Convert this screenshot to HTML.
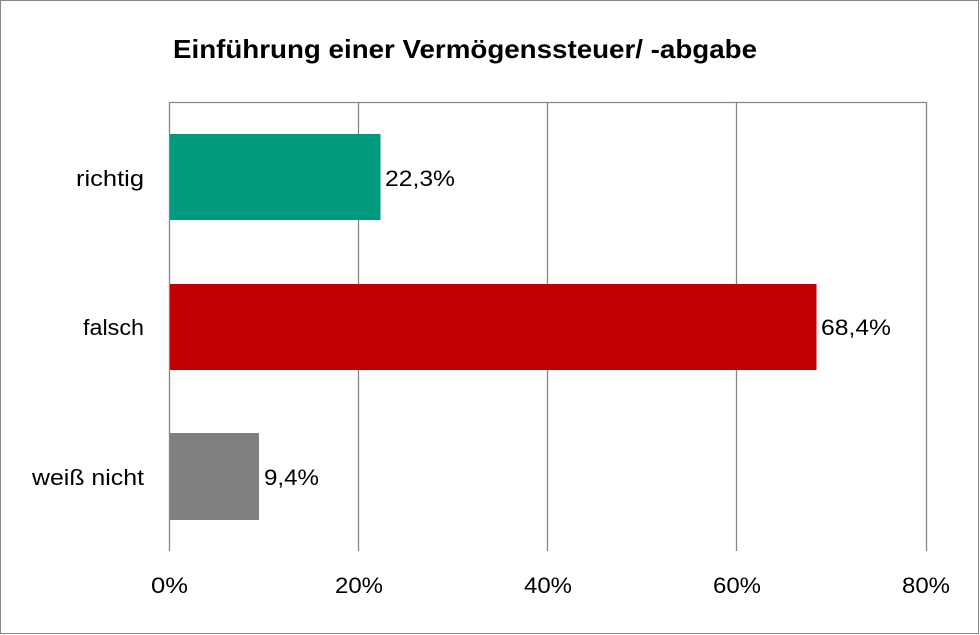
<!DOCTYPE html>
<html><head><meta charset="utf-8"><style>
html,body{margin:0;padding:0;background:#fff;}
svg{display:block;}
text{font-family:"Liberation Sans",sans-serif;fill:#000;}
</style></head><body>
<svg width="980" height="635" viewBox="0 0 980 635">
<rect x="0.5" y="0.5" width="978" height="633" fill="#fff" stroke="#868686"/>
<text x="173" y="58" font-size="26" font-weight="bold" textLength="584" lengthAdjust="spacingAndGlyphs">Einführung einer Vermögenssteuer/ -abgabe</text>
<g stroke="#868686" stroke-width="1.3">
<line x1="169.5" y1="102.5" x2="926.5" y2="102.5"/>
<line x1="169.5" y1="102" x2="169.5" y2="551"/>
<line x1="358.5" y1="102" x2="358.5" y2="551"/>
<line x1="547.5" y1="102" x2="547.5" y2="551"/>
<line x1="736.5" y1="102" x2="736.5" y2="551"/>
<line x1="926.5" y1="102" x2="926.5" y2="551"/>
</g>
<rect x="170" y="134" width="210.5" height="86" fill="#009a7e"/>
<rect x="170" y="284" width="646.5" height="86" fill="#c00000"/>
<rect x="170" y="433" width="89" height="87" fill="#808080"/>
<g font-size="22" lengthAdjust="spacingAndGlyphs">
<text x="385" y="186" textLength="70" lengthAdjust="spacingAndGlyphs">22,3%</text>
<text x="821" y="335" textLength="70" lengthAdjust="spacingAndGlyphs">68,4%</text>
<text x="264" y="485" textLength="55" lengthAdjust="spacingAndGlyphs">9,4%</text>
<text x="76" y="186" textLength="68" lengthAdjust="spacingAndGlyphs">richtig</text>
<text x="83" y="335" textLength="61" lengthAdjust="spacingAndGlyphs">falsch</text>
<text x="32" y="485" textLength="112" lengthAdjust="spacingAndGlyphs">weiß nicht</text>
<text x="151" y="593" textLength="37" lengthAdjust="spacingAndGlyphs">0%</text>
<text x="335" y="593" textLength="48" lengthAdjust="spacingAndGlyphs">20%</text>
<text x="524" y="593" textLength="48" lengthAdjust="spacingAndGlyphs">40%</text>
<text x="713" y="593" textLength="48" lengthAdjust="spacingAndGlyphs">60%</text>
<text x="902" y="593" textLength="48" lengthAdjust="spacingAndGlyphs">80%</text>
</g>
</svg>
</body></html>
